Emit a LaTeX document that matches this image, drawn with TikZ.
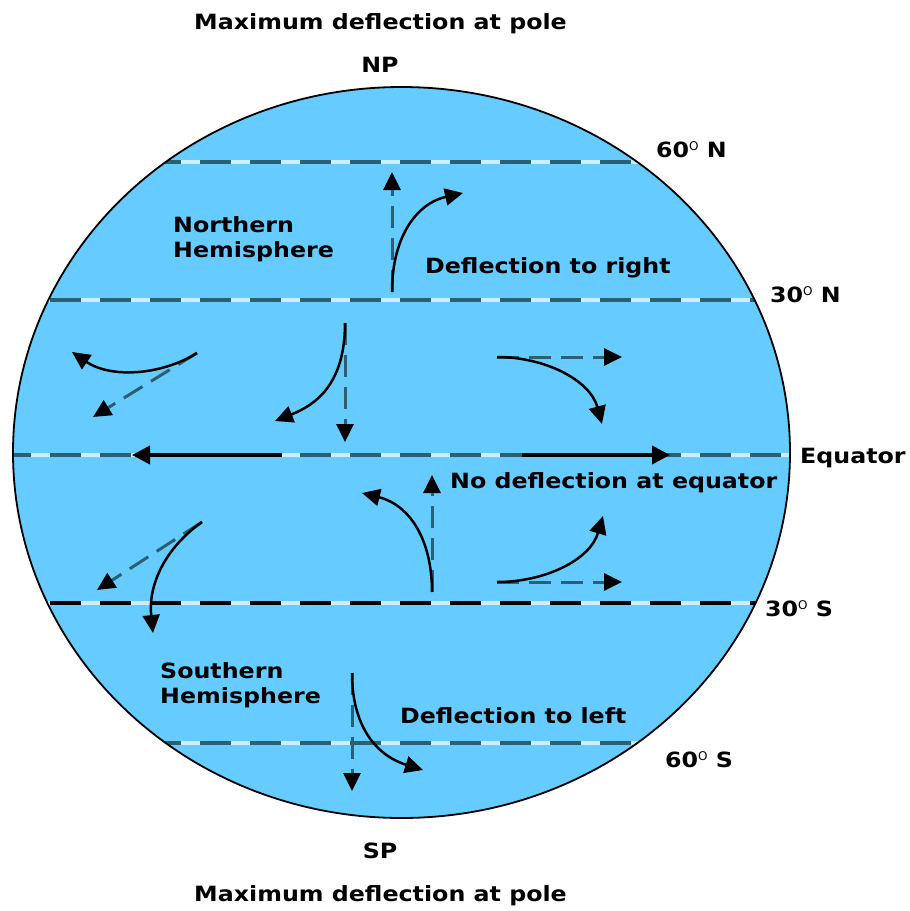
\documentclass[tikz,border=0pt]{standalone}
\usepackage{fontspec}
\setmainfont{DejaVu Sans}
\newfontfamily\lblfont{DejaVu Sans Bold}[FakeStretch=1.13]
\newfontfamily\supfont{DejaVu Sans}
\usetikzlibrary{arrows.meta}
\definecolor{sea}{RGB}{102,204,255}
\definecolor{slate}{RGB}{45,95,115}
\definecolor{gapc}{RGB}{205,238,255}
\newcommand{\degO}{\raisebox{7pt}{\supfont\fontsize{12}{12}\selectfont O}}
\tikzset{
  lbl/.style={font={\lblfont\fontsize{21}{25}\selectfont}, inner sep=0pt, anchor=base west, align=left},
  lblc/.style={lbl, anchor=base},
  latgap/.style={draw=gapc, line width=3.5pt},
  latdash/.style={draw=slate, line width=3.5pt, dash pattern=on 31pt off 19pt},
  curvearr/.style={draw=black, line width=2.5pt, -{Triangle[length=18pt,width=17pt]}},
  dasharr/.style={draw=slate, line width=3pt, dash pattern=on 22pt off 10pt, -{Triangle[length=18pt,width=17pt,color=black]}},
  equarr/.style={draw=black, line width=3.8pt, -{Triangle[length=18pt,width=18pt]}}
}
\begin{document}
\begin{tikzpicture}[x=1pt,y=-1pt]
\useasboundingbox (0,0) rectangle (910,911);
% globe
\coordinate (c) at (401.5,452.5);
\fill[sea] (c) ellipse [x radius=388.5pt, y radius=365.5pt];
\begin{scope}
  \clip (c) ellipse [x radius=388.5pt, y radius=365.5pt];
  \foreach \yy/\col in {162/slate,300/slate,455/slate,603/black,743/slate}{
    \draw[latgap] (0,\yy) -- (910,\yy);
    \draw[latdash,draw=\col] (0,\yy) -- (910,\yy);
  }
\end{scope}
\draw[line width=1.8pt] (c) ellipse [x radius=388.5pt, y radius=365.5pt];

% arrow end points
\coordinate (a1s) at (392,292); \coordinate (a1d) at (392,172); \coordinate (a1c) at (463,193);
\coordinate (a2s) at (197,353); \coordinate (a2d) at (93,417);  \coordinate (a2c) at (72,352);
\coordinate (a3s) at (345,323); \coordinate (a3d) at (345,442); \coordinate (a3c) at (275,421);
\coordinate (a4s) at (497,357); \coordinate (a4d) at (622,357); \coordinate (a4c) at (602,424);
\coordinate (e1s) at (282,455); \coordinate (e1e) at (132,455);
\coordinate (e2s) at (522,455); \coordinate (e2e) at (670,455);
\coordinate (b1s) at (432,592); \coordinate (b1d) at (432,475); \coordinate (b1c) at (362,493);
\coordinate (b2s) at (202,522); \coordinate (b2d) at (97,590);  \coordinate (b2c) at (153,633);
\coordinate (b3s) at (497,582); \coordinate (b3d) at (622,582); \coordinate (b3c) at (603,516);
\coordinate (b4s) at (352,673); \coordinate (b4d) at (352,791); \coordinate (b4c) at (423,770);

% dashed (undeflected) arrows
\draw[dasharr] (a1s) -- (a1d);
\draw[dasharr] (a2s) -- (a2d);
\draw[dasharr] (a3s) -- (a3d);
\draw[dasharr] (a4s) -- (a4d);
\draw[dasharr] (b1s) -- (b1d);
\draw[dasharr] (b2s) -- (b2d);
\draw[dasharr] (b3s) -- (b3d);
\draw[dasharr] (b4s) -- (b4d);

% deflected arrows
\draw[curvearr] (a1s) .. controls (392,235) and (418,203) .. (a1c);
\draw[curvearr] (a2s) .. controls (160,376) and (110,378) .. (a2c);
\draw[curvearr] (a3s) .. controls (345,385) and (315,405) .. (a3c);
\draw[curvearr] (a4s) .. controls (545,357) and (590,380) .. (a4c);
\draw[curvearr] (b1s) .. controls (432,540) and (410,505) .. (b1c);
\draw[curvearr] (b2s) .. controls (165,548) and (148,585) .. (b2c);
\draw[curvearr] (b3s) .. controls (545,582) and (590,560) .. (b3c);
\draw[curvearr] (b4s) .. controls (352,725) and (375,755) .. (b4c);

% equator arrows
\draw[equarr] (e1s) -- (e1e);
\draw[equarr] (e2s) -- (e2e);

% labels
\node[lblc] (ttop) at (380.5,29) {Maximum deflection at pole};
\node[lblc] (np) at (380,72) {NP};
\node[lblc] (sp) at (380,858) {SP};
\node[lblc] (tbot) at (380.5,901) {Maximum deflection at pole};
\node[lbl] (l60n) at (656,157) {60\degO\ N};
\node[lbl] (l30n) at (770,302) {30\degO\ N};
\node[lbl] (leq) at (800,463) {Equator};
\node[lbl] (l30s) at (765,616) {30\degO\ S};
\node[lbl] (l60s) at (665,767) {60\degO\ S};
\node[lbl] (nh) at (173,257) {Northern\\Hemisphere};
\node[lbl] (dr) at (425,273) {Deflection to right};
\node[lbl] (nd) at (450,488) {No deflection at equator};
\node[lbl] (sh) at (160,703) {Southern\\Hemisphere};
\node[lbl] (dl) at (400,723) {Deflection to left};
\end{tikzpicture}
\end{document}
